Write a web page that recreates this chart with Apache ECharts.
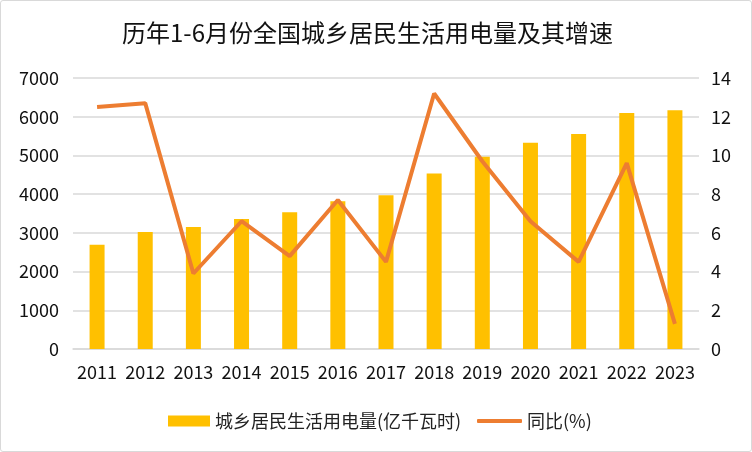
<!DOCTYPE html>
<html>
<head>
<meta charset="utf-8">
<script src="https://cdn.jsdelivr.net/npm/echarts@6/dist/echarts.min.js"></script>
<style>
html,body{margin:0;padding:0;background:#fff;}
#c{width:750px;height:450px;border:1px solid #d9d9d9;border-radius:3px;}
</style>
</head>
<body>
<div id="c"></div>
<script>
const categories = ['2011','2012','2013','2014','2015','2016','2017','2018','2019','2020','2021','2022','2023'];
const consumption = [2690, 3020, 3150, 3355, 3535, 3815, 3970, 4535, 4965, 5325, 5555, 6095, 6170];
const growth = [12.5, 12.7, 3.9, 6.6, 4.8, 7.7, 4.5, 13.2, 9.7, 6.6, 4.5, 9.6, 1.3];
const leftTicks = [0, 7000, 1000];
const rightTicks = [0, 14, 2];
const seriesNames = ['城乡居民生活用电量(亿千瓦时)', '同比(%)'];
const titleText = '历年1-6月份全国城乡居民生活用电量及其增速';

const font = '"Microsoft YaHei","Noto Sans CJK SC",sans-serif';
const chart = echarts.init(document.getElementById('c'));
chart.setOption({
  animation: false,
  title: {
    text: titleText,
    left: 116,
    top: 15,
    textStyle: {fontFamily: font, fontSize: 24, fontWeight: 'normal', color: '#111'}
  },
  legend: [
    {
      left: 162, top: 406,
      itemWidth: 42, itemHeight: 11,
      textStyle: {fontFamily: font, fontSize: 18, color: '#222'},
      data: [{name: seriesNames[0], icon: 'rect'}]
    },
    {
      left: 471, top: 406,
      itemWidth: 45, itemHeight: 4,
      textStyle: {fontFamily: font, fontSize: 18, color: '#222'},
      data: [{name: seriesNames[1], icon: 'roundRect'}]
    }
  ],
  grid: {left: 72, right: 52, top: 77, bottom: 102},
  xAxis: {
    type: 'category',
    data: categories,
    axisLine: {lineStyle: {color: '#d9d9d9', width: 1.5}},
    axisTick: {show: false},
    axisLabel: {fontFamily: font, fontSize: 18, color: '#111', margin: 14, interval: 0}
  },
  yAxis: [
    {
      type: 'value', min: leftTicks[0], max: leftTicks[1], interval: leftTicks[2],
      axisLine: {show: false}, axisTick: {show: false},
      splitLine: {lineStyle: {color: '#d9d9d9', width: 1.5}},
      axisLabel: {fontFamily: font, fontSize: 18, color: '#111', margin: 14, formatter: v => String(v)}
    },
    {
      type: 'value', min: rightTicks[0], max: rightTicks[1], interval: rightTicks[2],
      axisLine: {show: false}, axisTick: {show: false},
      splitLine: {show: false},
      axisLabel: {fontFamily: font, fontSize: 18, color: '#111', margin: 12}
    }
  ],
  series: [
    {
      name: seriesNames[0], type: 'bar', data: consumption, yAxisIndex: 0,
      barWidth: 15, itemStyle: {color: '#FFC000'}
    },
    {
      name: seriesNames[1], type: 'line', data: growth, yAxisIndex: 1,
      symbol: 'none', lineStyle: {color: '#ED7D31', width: 4}, itemStyle: {color: '#ED7D31'}
    }
  ]
});
</script>
</body>
</html>
